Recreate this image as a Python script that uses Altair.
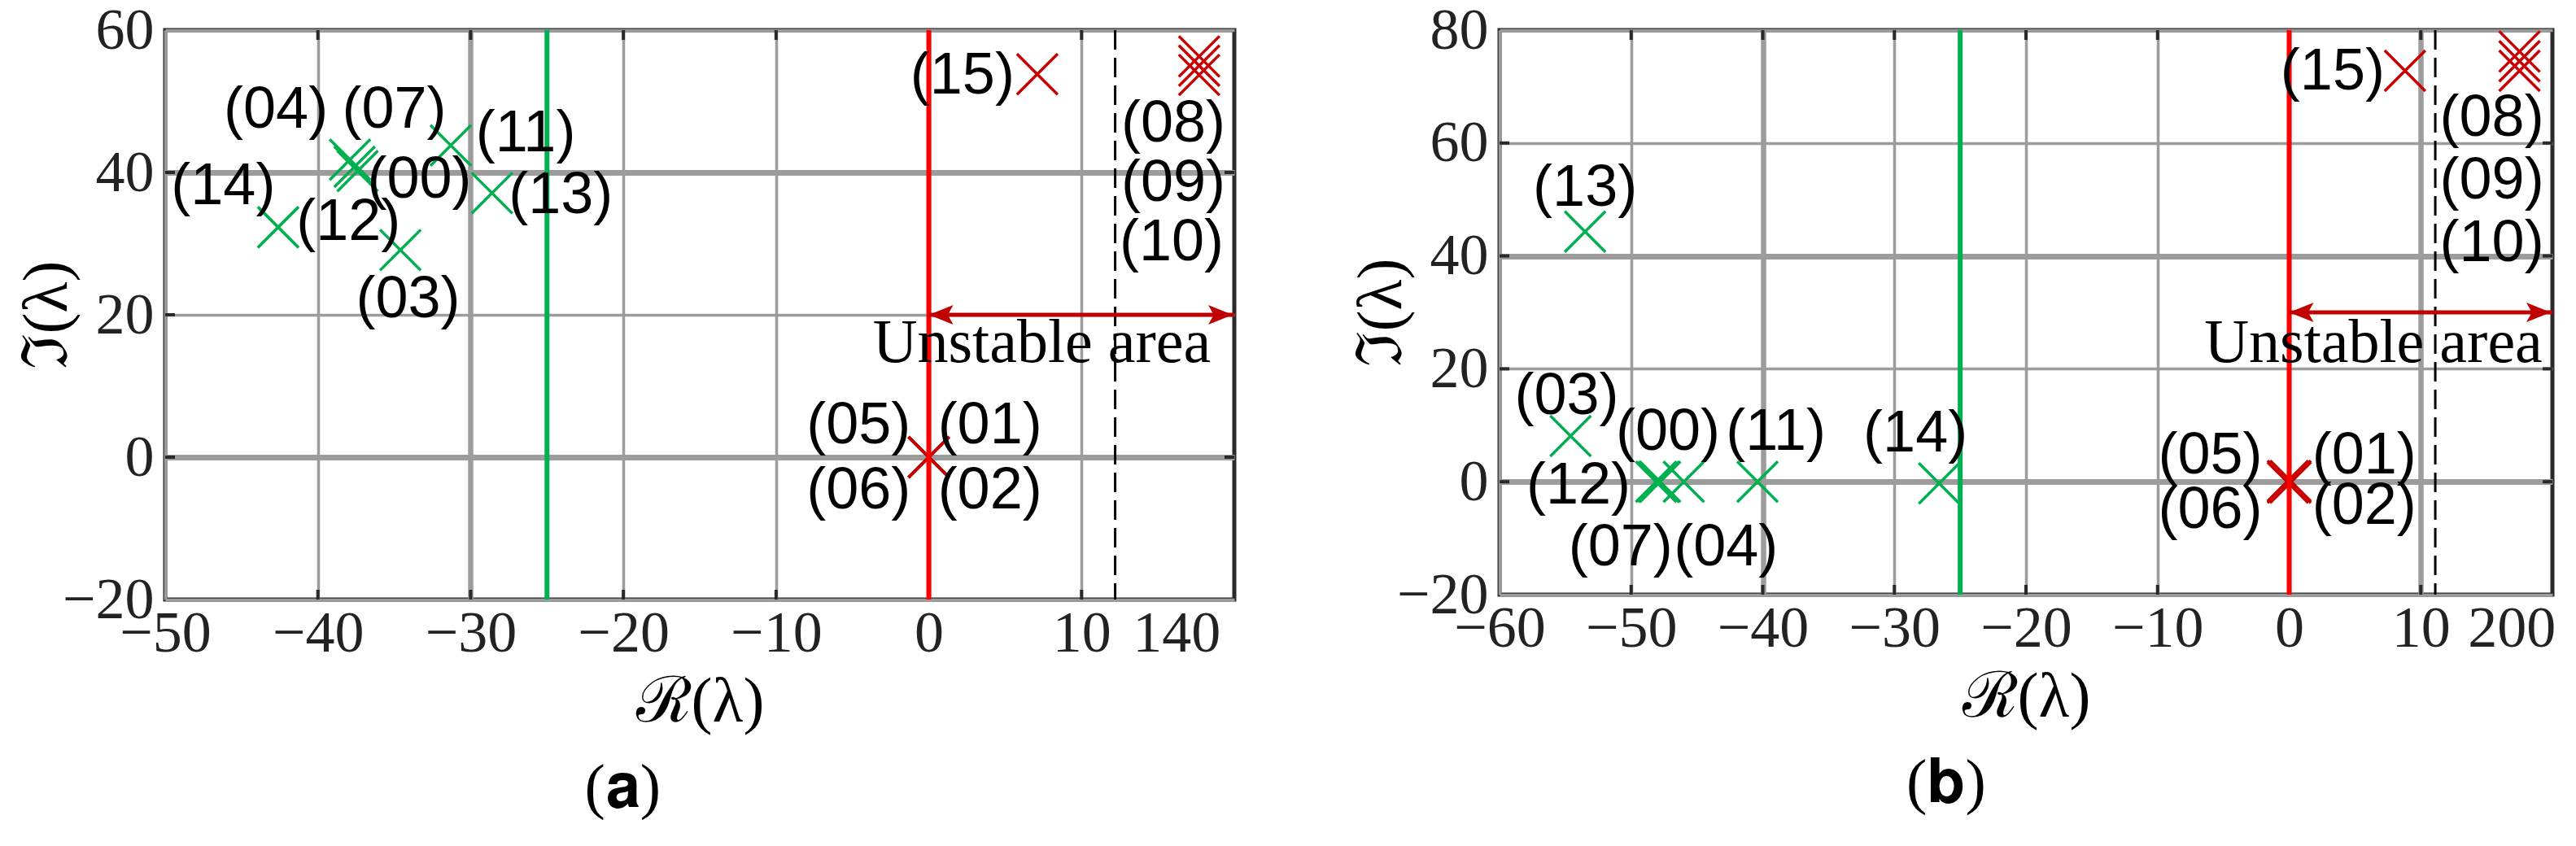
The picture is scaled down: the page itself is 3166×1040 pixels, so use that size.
import altair as alt
import pandas as pd

# ---------------- data ----------------
modes = ["(00)", "(01)", "(02)", "(03)", "(04)", "(05)", "(06)", "(07)",
         "(08)", "(09)", "(10)", "(11)", "(12)", "(13)", "(14)", "(15)"]

# panel (a): eigenvalues (real part, imaginary part)
a_re = [-37.4, 0.0, 0.0, -34.6, -37.9, 0.0, 0.0, -37.6,
        146.0, 146.0, 146.0, -31.3, -42.6, -28.6, -42.6, 7.1]
a_im = [40.2, 0.0, 0.0, 29.1, 41.8, 0.0, 0.0, 40.8,
        56.3, 55.0, 53.7, 43.8, 32.3, 37.1, 32.3, 53.8]
# panel (a): label anchor points (data units)
a_lab_re = [-33.35, 4.0, 4.0, -34.1, -42.75, -4.6, -4.6, -35.0,
            139.2, 139.2, 138.8, -26.4, -38.0, -24.1, -46.2, 2.2]
a_lab_im = [39.0, 4.5, -4.7, 22.2, 48.8, 4.5, -4.7, 48.8,
            46.9, 38.5, 30.2, 45.5, 33.0, 36.8, 38.1, 53.6]

# panel (b)
b_re = [-47.8, 0.1, 0.1, -54.6, -46.0, -0.1, -0.1, -47.9,
        203.0, 203.0, 203.0, -40.4, -48.1, -53.5, -26.6, 8.8]
b_im = [0.0, 0.15, -0.15, 8.1, 0.0, 0.15, -0.15, 0.0,
        76.2, 74.5, 72.8, 0.0, 0.0, 44.3, -0.3, 72.8]
b_lab_re = [-47.2, 5.7, 5.7, -54.9, -42.8, -6.0, -6.0, -50.8,
            192.5, 192.5, 192.5, -39.0, -54.0, -53.5, -28.4, 3.3]
b_lab_im = [8.8, 4.6, -4.3, 15.1, -11.7, 4.6, -5.0, -11.7,
            64.5, 53.4, 42.3, 8.8, -0.7, 52.1, 8.5, 72.7]

a_xticks = [-50, -40, -30, -20, -10, 0, 10]
b_xticks = [-60, -50, -40, -30, -20, -10, 0, 10]
a_yticks = [-20, 0, 20, 40, 60]
b_yticks = [-20, 0, 20, 40, 60, 80]

a_far_label = 140   # value shown right of the axis break
b_far_label = 200

stability_limit_a = [-25, 0]   # green / red vertical lines
stability_limit_b = [-25, 0]
arrow_y_a = 20
arrow_y_b = 30
unstable_text_a = (7.4, 16.0)
unstable_text_b = (6.4, 24.5)

GREEN = "#00B050"
DARKRED = "#C80000"
RED = "#FF0000"
FRAME = "#2a2a2a"

arrow_right = "M1,0L-1,-0.8L-0.55,0L-1,0.8Z"
arrow_left = "M-1,0L1,-0.8L0.55,0L1,0.8Z"
cross_path = "M-1,-1L1,1M-1,1L1,-1"


def panel(re, im, lab_re, lab_im, xticks, yticks, xdom, ydom, far_label,
          brk_line, far_pos, far_k, limits, arrow_y, utext, W, H,
          grid_x_thick, grid_y_thick, caption, cap_dx):
    def disp(v):
        # broken axis: far values are shown compressed right of the break
        return far_pos + (v - far_label) * far_k if v > 50 else v

    pts = pd.DataFrame({
        "mode": modes, "re": re, "im": im,
        "xd": [disp(v) for v in re],
        "state": ["unstable" if v > -1 else "stable" for v in re],
    })
    labs = pd.DataFrame({"mode": modes, "xd": [disp(v) for v in lab_re], "im": lab_im})

    xscale = alt.Scale(domain=xdom, nice=False, zero=False)
    yscale = alt.Scale(domain=ydom, nice=False, zero=False)

    xaxis = alt.Axis(
        values=xticks + [far_pos],
        labelExpr=f"datum.value > {far_pos - 1} ? '{far_label}' : datum.label",
        labelFlush=False, labelOverlap=False, labelPadding=6,
        gridOpacity={"condition": {"test": f"datum.value > {far_pos - 1}", "value": 0}, "value": 1},
        gridWidth={"condition": {"test": " || ".join(f"datum.value === {v}" for v in grid_x_thick), "value": 6.5}, "value": 3.5},
        title="ℛ(λ)", titleY=126, titleBaseline="middle",
    )
    yaxis = alt.Axis(
        values=yticks, labelPadding=14,
        gridWidth={"condition": {"test": " || ".join(f"datum.value === {v}" for v in grid_y_thick), "value": 7}, "value": 3.5},
        title="ℑ(λ)", titleX=-145, titleBaseline="middle",
    )

    def X(f):
        return alt.X(f, type="quantitative", scale=xscale, axis=xaxis)

    def Y(f):
        return alt.Y(f, type="quantitative", scale=yscale, axis=yaxis)

    lines_df = pd.DataFrame({"x": limits, "c": [GREEN, RED]})
    vlines = alt.Chart(lines_df).mark_rule(strokeWidth=6).encode(
        x=X("x"), color=alt.Color("c:N", scale=None))

    dashed = alt.Chart(pd.DataFrame({"x": [brk_line]})).mark_rule(
        strokeWidth=3, color="black", strokeDash=[24, 10]).encode(x=X("x"))

    inner_x = pd.DataFrame({"x": xticks[1:]})
    inner_y = pd.DataFrame({"y": yticks[1:-1]})
    tk = dict(color=FRAME, strokeWidth=4)
    t_top = alt.Chart(inner_x).mark_rule(**tk).encode(x=X("x"), y=alt.value(0), y2=alt.value(12))
    t_bot = alt.Chart(inner_x).mark_rule(**tk).encode(x=X("x"), y=alt.value(H), y2=alt.value(H - 12))
    t_lft = alt.Chart(inner_y).mark_rule(**tk).encode(y=Y("y"), x=alt.value(0), x2=alt.value(12))
    t_rgt = alt.Chart(inner_y).mark_rule(**tk).encode(y=Y("y"), x=alt.value(W), x2=alt.value(W - 12))

    arrow_df = pd.DataFrame({"x": [0.0], "x2": [xdom[1]], "y": [arrow_y]})
    arrow = alt.Chart(arrow_df).mark_rule(color="#C00000", strokeWidth=5).encode(
        x=X("x"), x2="x2", y=Y("y"))
    head_r = alt.Chart(arrow_df).mark_point(shape=arrow_right, filled=True, size=900,
                                            color="#C00000", opacity=1, xOffset=-17).encode(
        x=X("x2"), y=Y("y"))
    head_l = alt.Chart(arrow_df).mark_point(shape=arrow_left, filled=True, size=900,
                                            color="#C00000", opacity=1, xOffset=15).encode(
        x=X("x"), y=Y("y"))

    crosses = alt.Chart(pts).mark_point(shape=cross_path, size=2500, filled=False,
                                        strokeWidth=3.5, opacity=1).encode(
        x=X("xd"), y=Y("im"),
        color=alt.Color("state:N", scale=alt.Scale(domain=["stable", "unstable"],
                                                   range=[GREEN, DARKRED]), legend=None))

    texts = alt.Chart(labs).mark_text(font="Liberation Sans", fontSize=72, baseline="middle",
                                      align="center", color="black").encode(
        x=X("xd"), y=Y("im"), text="mode:N")

    ut = alt.Chart(pd.DataFrame({"x": [utext[0]], "y": [utext[1]], "t": ["Unstable area"]})).mark_text(
        font="Liberation Serif", fontSize=76, baseline="middle", align="center", color="black").encode(
        x=X("x"), y=Y("y"), text="t:N")

    return alt.layer(crosses, t_top, t_bot, t_lft, t_rgt, dashed, vlines,
                     arrow, head_r, head_l, texts, ut).properties(
        width=W, height=H,
        title=alt.TitleParams(caption, orient="bottom", frame="bounds", anchor="middle",
                              fontSize=76, font="Liberation Serif", fontWeight="normal",
                              color="black", offset=30, dx=cap_dx))


pa = panel(a_re, a_im, a_lab_re, a_lab_im, a_xticks, a_yticks, [-50, 20], [-20, 60],
           a_far_label, 12.2, 16.2, 0.25, stability_limit_a, arrow_y_a, unstable_text_a,
           1314, 700, [-30], [40, 0], "(𝐚)", -4)
pb = panel(b_re, b_im, b_lab_re, b_lab_im, b_xticks, b_yticks, [-60, 20], [-20, 80],
           b_far_label, 11.1, 16.9, 0.2, stability_limit_b, arrow_y_b, unstable_text_b,
           1294, 694, [-40, 10], [40, 0], "(𝐛)", -8)

chart = alt.hconcat(pa, pb, spacing=134).properties(
    padding={"left": 8, "top": -10, "right": 0, "bottom": 0},
    background="white",
).configure_view(stroke=FRAME, strokeWidth=5).configure_axis(
    domain=False, ticks=False, grid=True, gridColor="#9c9c9c",
    labelFont="Liberation Serif", labelFontSize=72, labelColor="#222222",
    titleFont="Liberation Serif", titleFontSize=78, titleFontWeight="normal", titleColor="black",
)

chart.save("out.html", embed_options={"renderer": "svg", "actions": False})
